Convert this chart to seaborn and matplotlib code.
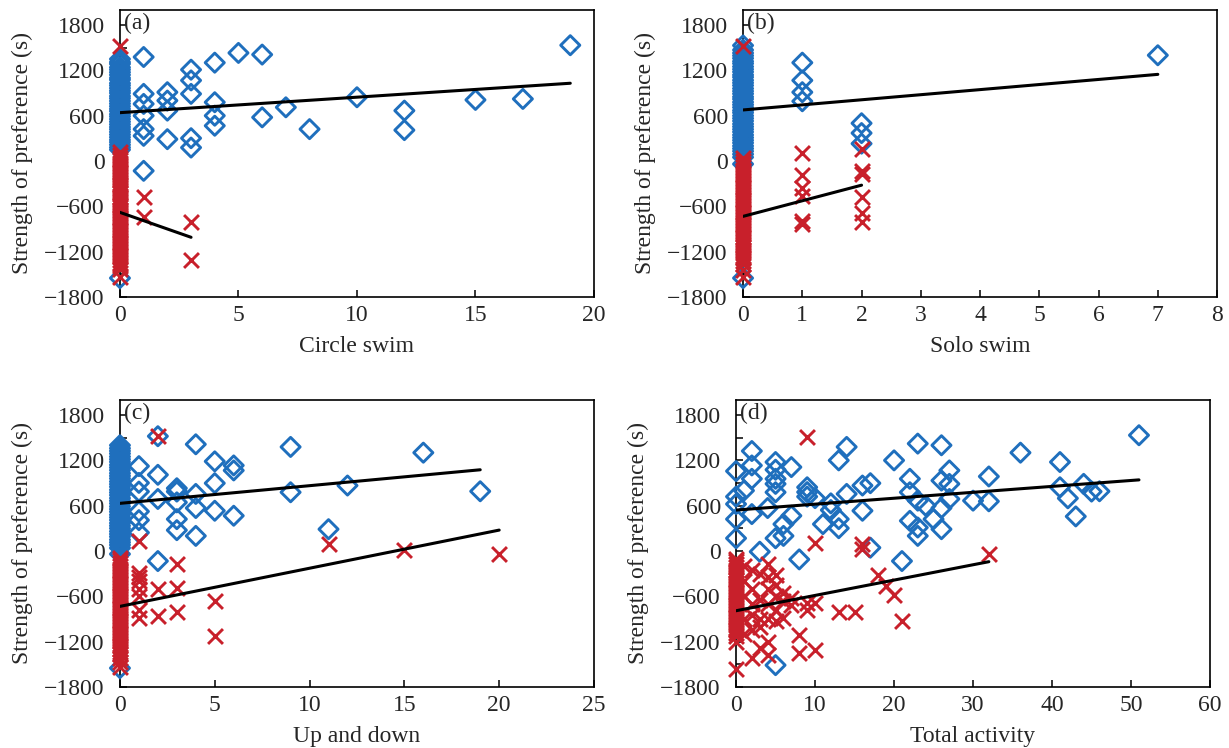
import matplotlib
matplotlib.use("Agg")
import matplotlib.pyplot as plt
from matplotlib.ticker import MultipleLocator
import seaborn as sns

sns.set_theme(style="ticks")
plt.rcParams['font.family'] = ['Liberation Serif', 'DejaVu Serif']
plt.rcParams['axes.edgecolor'] = 'black'
plt.rcParams['axes.unicode_minus'] = True

BLUE = '#1f6fbd'
RED = '#c8202b'

# ---------------- data ----------------
# Panel (a) Circle swim
a_blue_x = [0]*37 + [1, 1, 1, 1, 1, 1, 1, 2, 2, 2, 2, 3, 3, 3, 3, 3, 4, 4, 4, 4, 5, 6, 6, 7, 8, 10, 12, 12, 15, 17, 19]
a_blue_y = [1350, 1310, 1285, 1240, 1210, 1175, 1140, 1100, 1075, 1030, 1000, 965, 930, 900, 860, 830, 795,
            760, 725, 690, 660, 620, 590, 555, 520, 485, 450, 420, 385, 350, 315, 280, 250, 215, 180, 150, -1550,
            1377, 889, 756, 600, 422, 333, -130, 911, 800, 667, 289, 1209, 1067, 889, 302, 178,
            1302, 778, 600, 467, 1431, 1409, 578, 711, 422, 844, 667, 409, 809, 822, 1533]
a_red_x = [0]*45 + [1, 1, 3, 3]
a_red_y = [1520, 120, 85, 45, 10, -30, -65, -100, -140, -175, -210, -250, -285, -320, -360, -395, -430, -470,
           -505, -540, -580, -615, -650, -690, -725, -760, -800, -835, -870, -910, -945, -980, -1020, -1055,
           -1090, -1130, -1165, -1200, -1240, -1275, -1310, -1350, -1390, -1430, -1540,
           -476, -742, -809, -1311]
a_fits = [(0, 19, 640, 20.5), (0, 3, -680, -110)]

# Panel (b) Solo swim
b_blue_x = [0]*43 + [1, 1, 1, 1, 2, 2, 2, 7]
b_blue_y = [1530, 1470, 1430, 1395, 1360, 1320, 1290, 1250, 1215, 1180, 1140, 1110, 1070, 1035, 1000, 960,
            925, 890, 850, 820, 780, 745, 710, 670, 640, 600, 565, 530, 490, 455, 420, 385, 345, 310, 275,
            240, 200, 165, 130, 90, 50, -40, -1550,
            1302, 1067, 911, 791, 500, 370, 230, 1400]
b_red_x = [0]*42 + [1, 1, 1, 1, 1, 1, 2, 2, 2, 2, 2, 2]
b_red_y = [1520, 40, 0, -45, -80, -120, -155, -190, -230, -265, -300, -340, -375, -410, -450, -485, -520,
           -560, -595, -630, -670, -705, -740, -780, -815, -850, -890, -925, -960, -1000, -1035, -1070,
           -1110, -1145, -1180, -1220, -1255, -1290, -1330, -1370, -1440, -1540,
           102, -187, -356, -458, -800, -836, 156, -133, -178, -476, -689, -813]
b_fits = [(0, 7, 676, 67.3), (0, 2, -733, 206.5)]

# Panel (c) Up and down
c_blue_x = [0]*40 + [1]*6 + [2]*4 + [3]*5 + [4]*4 + [5]*3 + [6]*3 + [9, 9, 11, 12, 16, 19]
c_blue_y = [1400, 1360, 1325, 1290, 1250, 1215, 1180, 1140, 1105, 1070, 1030, 995, 960, 920, 885, 850, 810,
            775, 740, 700, 665, 630, 590, 555, 520, 480, 445, 410, 370, 335, 300, 260, 225, 190, 150, 115,
            80, 40, -40, -1550,
            1124, 902, 787, 524, 409, 244, 1520, 1009, 689, -133, 831, 787, 644, 422, 276,
            1413, 756, 569, 200, 1187, 898, 533, 1133, 1067, 467, 1378, 778, 289, 867, 1302, 791]
c_red_x = [0]*39 + [1]*8 + [2]*3 + [3]*3 + [5, 5, 11, 15, 20]
c_red_y = [-90, -125, -160, -200, -235, -270, -310, -345, -380, -420, -455, -490, -530, -565, -600, -640,
           -675, -710, -750, -785, -820, -860, -895, -930, -970, -1005, -1040, -1080, -1115, -1150, -1190,
           -1225, -1260, -1300, -1335, -1370, -1410, -1465, -1540,
           133, -289, -347, -391, -502, -600, -778, -889, 1520, -498, -858, -169, -489, -813,
           -658, -1124, 89, 9, -36]
c_fits = [(0, 19, 631, 23.4), (0, 20, -733, 50.5)]

# Panel (d) Total activity
d_blue_x = [0, 0, 0, 0, 0, 1, 2, 2, 2, 2, 3, 4, 5, 5, 5, 5, 5, 5, 5, 6, 6, 7, 7, 8, 9, 9, 9, 10, 11, 12,
            12, 13, 13, 13, 14, 14, 16, 16, 17, 17, 20, 21, 22, 22, 22, 23, 23, 23, 23, 24, 25, 26, 26,
            26, 26, 27, 27, 27, 30, 32, 32, 36, 41, 41, 42, 43, 44, 45, 46, 51]
d_blue_y = [1058, 720, 622, 422, 169, 800, 1324, 1133, 956, 489, -9, 569, 1178, 1076, 956, 889, 778, 169,
            -1511, 356, 200, 1111, 467, -111, 844, 780, 720, 700, 356, 631, 542, 422, 302, 1200, 1378, 756,
            867, 533, 898, 44, 1200, -133, 956, 778, 400, 311, 200, 1422, 667, 600, 422, 933, 1400, 289,
            569, 1067, 889, 689, 667, 987, 658, 1302, 1178, 844, 698, 458, 889, 787, 791, 1533]
d_red_x = [0]*31 + [1]*5 + [2]*6 + [3]*5 + [4]*7 + [5]*5 + [6]*3 + [7, 7, 8, 8, 9, 9, 9, 10, 10, 10,
                                                                   13, 15, 16, 16, 18, 19, 20, 21, 32]
d_red_y = [-100, -135, -170, -210, -245, -280, -320, -355, -390, -430, -465, -500, -540, -575, -610, -650,
           -685, -720, -760, -795, -830, -870, -905, -940, -980, -1015, -1050, -1090, -1125, -1200, -1556,
           -200, -400, -600, -900, -1100,
           -250, -500, -700, -850, -1050, -1420,
           -300, -650, -900, -1000, -1289,
           -178, -350, -500, -700, -900, -1200, -1378,
           -311, -450, -600, -780, -933,
           -550, -667, -889,
           -620, -720, -1111, -1356, -689, -778, 1511, -689, -1311, 111,
           -809, -809, 89, 22, -320, -467, -578, -933, -36]
d_fits = [(0, 51, 542, 7.84), (0, 32, -791, 20.3)]

x_labels = ['Circle swim', 'Solo swim', 'Up and down', 'Total activity']
tags = ['(a)', '(b)', '(c)', '(d)']
x_max = [20, 8, 25, 60]
x_step = [5, 1, 5, 10]
y_label = 'Strength of preference (s)'

# ---------------- figure ----------------
fig = plt.figure(figsize=(12.29, 7.48), dpi=100)
rects = [[0.0976, 0.603, 0.3857, 0.3837],
         [0.6046, 0.603, 0.3857, 0.3837],
         [0.0976, 0.0816, 0.3857, 0.3837],
         [0.5989, 0.0816, 0.3857, 0.3837]]

panels = [(a_blue_x, a_blue_y, a_red_x, a_red_y, a_fits),
          (b_blue_x, b_blue_y, b_red_x, b_red_y, b_fits),
          (c_blue_x, c_blue_y, c_red_x, c_red_y, c_fits),
          (d_blue_x, d_blue_y, d_red_x, d_red_y, d_fits)]

FS = 17
for i, (bx, by, rx, ry, fits) in enumerate(panels):
    ax = fig.add_axes(rects[i])
    sns.scatterplot(x=bx, y=by, marker='D', s=95, color=BLUE, facecolor='none', edgecolor=BLUE,
                    linewidth=2.1, clip_on=False, ax=ax, zorder=3)
    sns.scatterplot(x=rx, y=ry, marker='x', s=115, color=RED, linewidth=2.1, clip_on=False, ax=ax, zorder=4)
    for (x0, x1, b0, m) in fits:
        xs = [x0, x1]
        sns.lineplot(x=xs, y=[b0 + m * v for v in xs], color='black', linewidth=2.2, ax=ax, zorder=5)
    ax.set_xlim(0, x_max[i])
    ax.set_ylim(-1800, 2000)
    ax.xaxis.set_major_locator(MultipleLocator(x_step[i]))
    ax.yaxis.set_major_locator(MultipleLocator(600))
    ax.yaxis.set_minor_locator(MultipleLocator(300))
    ax.set_yticks(range(-1800, 1801, 600))
    ax.tick_params(axis='both', which='both', direction='in', length=5, width=1.1, color='black',
                   labelsize=FS, top=False, right=False)
    ax.tick_params(axis='y', pad=11)
    ax.tick_params(axis='x', pad=6)
    for sp in ax.spines.values():
        sp.set_linewidth(1.2)
        sp.set_color('black')
    ax.set_xlabel(x_labels[i], fontsize=FS, labelpad=7)
    ax.set_ylabel(y_label, fontsize=FS, labelpad=8)
    ax.text(0.008, 0.99, tags[i], transform=ax.transAxes, ha='left', va='top', fontsize=FS)
    ax.set_facecolor('white')

fig.patch.set_facecolor('white')
fig.savefig('out.png', dpi=100, facecolor='white')
